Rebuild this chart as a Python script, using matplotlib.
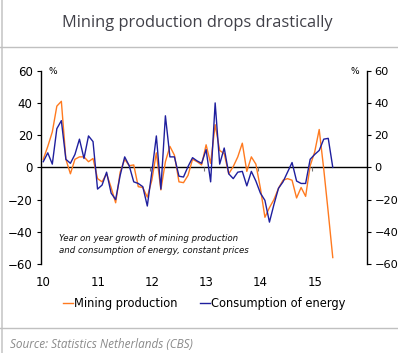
import matplotlib
matplotlib.use("Agg")
import matplotlib.pyplot as plt
import matplotlib.transforms as mtransforms
from matplotlib.lines import Line2D
import numpy as np

# ---- data (monthly, Jan 2010 - May 2015, year-on-year growth %) ----
start_year = 2010
mining = [5, 13, 22, 38, 41, 5, -4, 5, 6.5, 6.5, 3.5, 5.5,
          -7, -9, -4, -12.5, -22, -3, 5, 1, 1.5, -12, -12.5, -18.5,
          -8, 9, -14, 3.5, 13, 7.5, -9, -9.5, -5, 5, 3.5, 1.5,
          14, 2.5, 26.5, 10.5, 8.5, -4, 0.5, 6.5, 15, -2.5, 6.5, 2,
          -13, -31, -25, -20, -13, -8, -7, -8, -19, -12.5, -18, 1,
          9.5, 23.5, -1, -28, -56]
energy = [3.5, 9, 2, 24, 29, 5, 2.5, 8, 17.5, 5.5, 19.5, 16,
          -13.5, -11, -3, -16, -20, -5, 6.5, 1, -9, -10, -12, -24,
          -3, 19.5, -13.5, 32, 6.5, 6.5, -5.5, -6, 0.5, 6, 4, 2.5,
          11, -9, 40, 2, 12, -4, -7, -3, -2.5, -11.5, -2.5, -8.5,
          -16, -20.5, -34, -23, -13, -9, -3, 3, -8.5, -10, -10, 5,
          8, 10.5, 17.5, 18, 0]
year_ticks = [2010, 2011, 2012, 2013, 2014, 2015]
year_labels = ["10", "11", "12", "13", "14", "15"]
y_ticks = [-60, -40, -20, 0, 20, 40, 60]
series_names = ["Mining production", "Consumption of energy"]

ORANGE = "#FF7A1F"
BLUE = "#1F1F9E"

months = np.array([start_year + (i + 0.5) / 12 for i in range(len(mining))])

W, H = 398, 353
fig = plt.figure(figsize=(W / 100, H / 100), dpi=100)
fig.patch.set_facecolor("white")

# frame lines
fig.add_artist(Line2D([1.5 / W, 1.5 / W], [0, 1], color="#c8c8c8", lw=1.2))
fig.add_artist(Line2D([0, 1], [1 - 46.7 / H, 1 - 46.7 / H], color="#c0c0c0", lw=1.0))
fig.add_artist(Line2D([0, 1], [1 - 328 / H, 1 - 328 / H], color="#c0c0c0", lw=1.0))

fig.text(197 / W, 1 - 23 / H, "Mining production drops drastically",
         ha="center", va="center", fontsize=11.8, color="#404048",
         family="Open Sans")
fig.text(10 / W, 1 - 345 / H, "Source: Statistics Netherlands (CBS)",
         ha="left", va="center", fontsize=8.5, color="#8a8a8a",
         family="Open Sans", style="italic")

left, right = 41 / W, 366.7 / W
bottom, top = 1 - 264 / H, 1 - 70.7 / H
ax = fig.add_axes([left, bottom, right - left, top - bottom])
ax.set_xlim(2010, 2016)
ax.set_ylim(-60, 60)

ax.plot(months, mining, color=ORANGE, lw=1.0, zorder=3, label=series_names[0])
ax.plot(months, energy, color=BLUE, lw=1.0, zorder=4, label=series_names[1])
ax.axhline(0, color="black", lw=1.0, zorder=2)
ax.vlines(year_ticks[1:], -2, 0, color="#777777", lw=0.8, zorder=2)

for s in ["top", "bottom"]:
    ax.spines[s].set_visible(False)
ax.spines["left"].set_linewidth(1.0)
ax.spines["right"].set_visible(False)

ax.set_yticks(y_ticks)
ax.tick_params(axis="y", direction="out", length=3, width=0.8, pad=3,
               labelsize=8.5, colors="black")
ax.set_xticks(year_ticks)
ax.set_xticklabels(year_labels)
ax.tick_params(axis="x", length=0, pad=9, labelsize=8.5)
offset = mtransforms.ScaledTranslation(2.5 / 100, 0, fig.dpi_scale_trans)
for lab in ax.get_xticklabels():
    lab.set_transform(lab.get_transform() + offset)

ax2 = ax.twinx()
ax2.set_ylim(-60, 60)
ax2.set_yticks(y_ticks)
for s in ["top", "bottom", "left"]:
    ax2.spines[s].set_visible(False)
ax2.spines["right"].set_linewidth(1.0)
ax2.tick_params(axis="y", direction="out", length=3, width=0.8, pad=2.5,
                labelsize=8.2, colors="black")

ax.text(0.022, 0.995, "%", transform=ax.transAxes, fontsize=6.5,
        ha="left", va="center", color="black")
ax.text(0.978, 0.995, "%", transform=ax.transAxes, fontsize=6.5,
        ha="right", va="center", color="black")

ax.text(0.055, 0.10, "Year on year growth of mining production\nand consumption of energy, constant prices",
        transform=ax.transAxes, fontsize=6.2, style="italic", ha="left",
        va="center", linespacing=1.35, color="#111111")

leg = fig.legend(handles=ax.get_lines()[:2], labels=series_names,
                 loc="center", bbox_to_anchor=(204 / W, 1 - 304 / H),
                 ncol=2, frameon=False, fontsize=8.3, handlelength=0.9,
                 handletextpad=0.1, columnspacing=1.9)

fig.savefig("out.png", dpi=100)
